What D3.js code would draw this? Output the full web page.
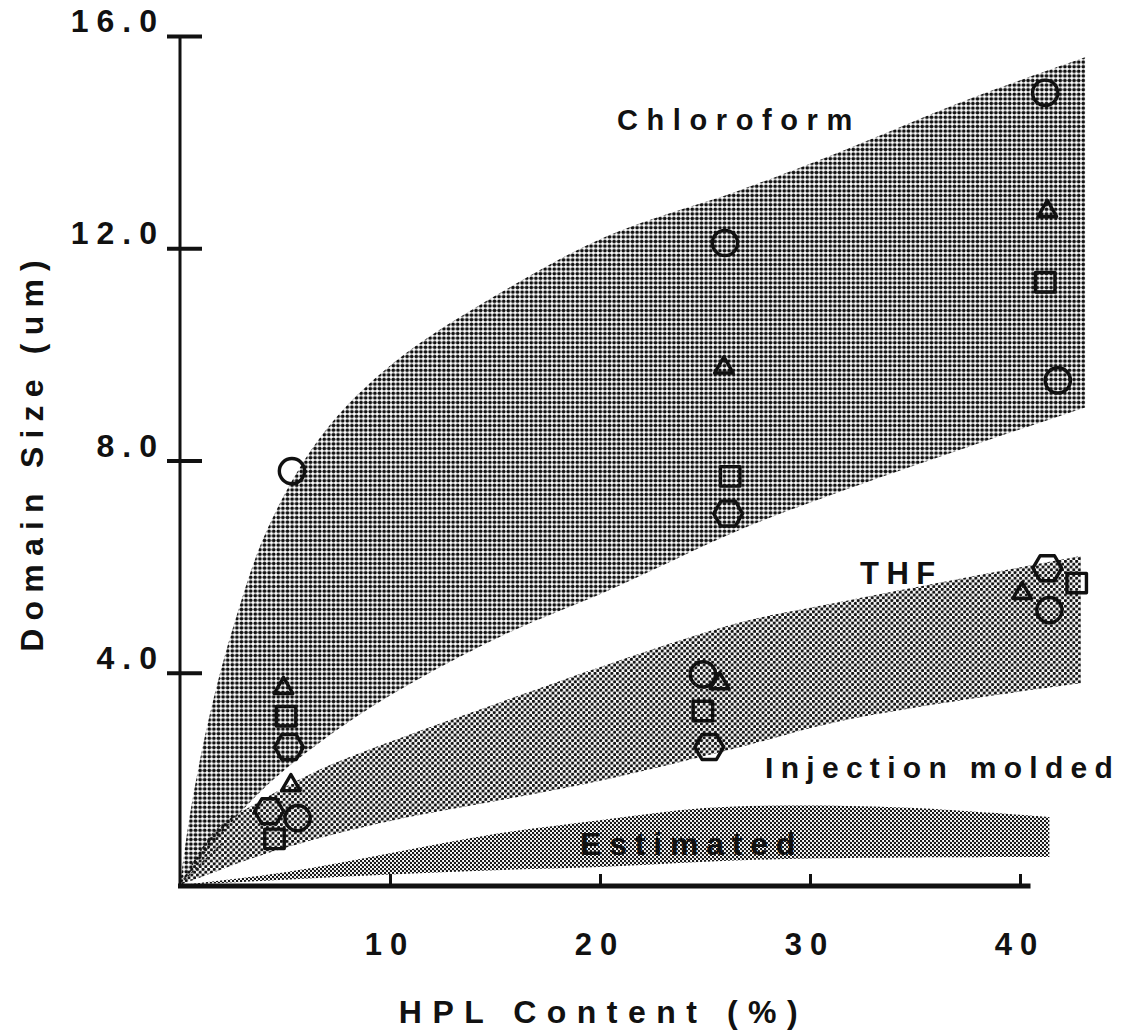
<!DOCTYPE html>
<html>
<head>
<meta charset="utf-8">
<script src="https://cdn.jsdelivr.net/npm/d3@7"></script>
<style>
  html, body { margin: 0; padding: 0; background: #fff; }
  svg { display: block; }
  text { font-family: "Liberation Sans", Arial, Helvetica, sans-serif; font-weight: bold; fill: #111; }
</style>
</head>
<body>
<svg id="chart" width="1147" height="1034"></svg>
<script>
// ---- data ----------------------------------------------------------------
const xTicks = [10, 20, 30, 40];
const yTicks = [4, 8, 12, 16];

// shaded bands: HPL content and lower / upper domain size
const chloroformX     = [0, 0.5, 1.4, 2.6, 4.2, 6.8, 10.2, 15.3, 20.4, 26.7, 31, 37.5, 43.1];
const chloroformUpper = [0, 1.39, 3.18, 4.95, 6.74, 8.5, 9.85, 11.17, 12.24, 13.1, 13.75, 14.8, 15.6];
const chloroformLower = [0, 0.25, 0.7, 1.25, 1.9, 2.73, 3.62, 4.69, 5.55, 6.7, 7.35, 8.25, 9.0];

const thfX     = [0, 1.7, 3.4, 6.8, 10.2, 15.3, 20.4, 26.7, 31, 37.5, 42.9];
const thfUpper = [0, 1.04, 1.49, 2.2, 2.73, 3.45, 4.16, 4.95, 5.3, 5.8, 6.2];
const thfLower = [0, 0.25, 0.5, 0.9, 1.22, 1.6, 2.0, 2.6, 3.05, 3.5, 3.8];

const estimatedX     = [0, 5, 10, 15, 20, 25, 30, 35, 41.4];
const estimatedUpper = [0, 0.24, 0.6, 0.96, 1.22, 1.45, 1.5, 1.45, 1.28];
const estimatedLower = [0, 0.1, 0.2, 0.28, 0.34, 0.44, 0.5, 0.52, 0.53];

// measured points [HPL %, domain size um] by marker shape
const circlePts   = [[5.33, 7.8], [5.6, 1.26], [25.95, 12.1], [24.9, 3.97], [41.2, 14.93], [41.8, 9.51], [41.4, 5.18]];
const trianglePts = [[4.93, 3.71], [5.28, 1.88], [25.9, 9.75], [25.7, 3.8], [41.3, 12.7], [40.1, 5.5]];
const squarePts   = [[5.05, 3.18], [4.5, 0.87], [26.2, 7.7], [24.9, 3.28], [41.2, 11.36], [42.7, 5.69]];
const hexagonPts  = [[5.19, 2.6], [4.24, 1.39], [26.1, 7.0], [25.2, 2.6], [41.3, 5.97]];

// ---- scales --------------------------------------------------------------
const x = d3.scaleLinear().domain([0, 40]).range([180, 1020]);
const y = d3.scaleLinear().domain([0, 16]).range([885, 36]);

const svg = d3.select("#chart");
const defs = svg.append("defs");

// halftone dot screens
function dotPattern(id, size, dots, r, fg) {
  const p = defs.append("pattern").attr("id", id)
    .attr("patternUnits", "userSpaceOnUse").attr("width", size).attr("height", size);
  dots.forEach(([cx, cy]) => p.append("circle").attr("cx", cx * size).attr("cy", cy * size).attr("r", r).attr("fill", fg));
}
dotPattern("screenChloro", 4.6, [[0.5, 0.5]], 1.9, "#111");
dotPattern("screenTHF", 5.6, [[0.25, 0.25], [0.75, 0.75]], 1.6, "#111");
dotPattern("screenEst", 4.0, [[0.25, 0.25], [0.75, 0.75]], 1.2, "#111");

// ---- bands ---------------------------------------------------------------
function band(xs, lo, hi, fill) {
  const rows = xs.map((v, i) => ({ x: v, lo: lo[i], hi: hi[i] }));
  const area = d3.area()
    .x(d => x(d.x)).y0(d => y(d.lo)).y1(d => y(d.hi))
    .curve(d3.curveCatmullRom.alpha(0.5));
  svg.append("path").datum(rows).attr("d", area).attr("fill", fill);
}
band(chloroformX, chloroformLower, chloroformUpper, "url(#screenChloro)");
band(thfX, thfLower, thfUpper, "url(#screenTHF)");
band(estimatedX, estimatedLower, estimatedUpper, "url(#screenEst)");

// faint pencil guide near the origin
svg.append("line")
  .attr("x1", x(0.2)).attr("y1", y(0.1)).attr("x2", x(2)).attr("y2", y(0.78))
  .attr("stroke", "#222").attr("stroke-width", 1.4).attr("stroke-dasharray", "3,2");

// ---- band labels -----------------------------------------------------------
function label(txt, px, py, size, ls) {
  svg.append("text").attr("x", px).attr("y", py)
    .attr("font-size", size).attr("letter-spacing", ls).text(txt);
}
label("Chloroform", 617, 130, 29, 8.6);
label("THF", 860, 584, 31, 7.5);
label("Injection molded", 765, 778, 30, 7.3);
label("Estimated", 580, 855, 32, 7.8);

// ---- axes ----------------------------------------------------------------
const yAxis = svg.append("g").attr("transform", `translate(${x(0)},0)`)
  .call(d3.axisLeft(y).tickValues(yTicks).tickSize(12).tickFormat(""));
yAxis.select(".domain").remove();
yAxis.selectAll(".tick line").attr("x1", 22).attr("x2", -13)
  .attr("stroke", "#111").attr("stroke-width", 4);
svg.append("line")
  .attr("x1", x(0)).attr("x2", x(0)).attr("y1", y(0) + 2).attr("y2", y(16))
  .attr("stroke", "#111").attr("stroke-width", 3);

const xAxis = svg.append("g").attr("transform", `translate(0,${y(0)})`)
  .call(d3.axisBottom(x).tickValues(xTicks).tickSize(-11).tickFormat(""));
xAxis.select(".domain").remove();
xAxis.selectAll(".tick line").attr("stroke", "#111").attr("stroke-width", 3);
svg.append("line")
  .attr("x1", x(0) - 2).attr("x2", x(40.5)).attr("y1", y(0) + 1).attr("y2", y(0) + 1)
  .attr("stroke", "#111").attr("stroke-width", 5);

// tick labels
const yLS = 8;
svg.selectAll(".ylab").data(yTicks).join("text").attr("class", "ylab")
  .attr("x", 157 + yLS).attr("y", d => y(d) - 4)
  .attr("text-anchor", "end").attr("font-size", 32).attr("letter-spacing", yLS)
  .text(d => d3.format(".1f")(d));

const xLS = 8;
svg.selectAll(".xlab").data(xTicks).join("text").attr("class", "xlab")
  .attr("x", d => x(d) - 4 + xLS / 2).attr("y", 955)
  .attr("text-anchor", "middle").attr("font-size", 31).attr("letter-spacing", xLS)
  .text(d => d);

// axis titles
svg.append("text").attr("x", 598 + 5.5).attr("y", 1023)
  .attr("text-anchor", "middle").attr("font-size", 32).attr("letter-spacing", 10.5)
  .text("HPL Content (%)");
const titleLS = 8.2;
svg.append("text").attr("transform", "translate(43,456) rotate(-90)")
  .attr("x", titleLS / 2).attr("text-anchor", "middle").attr("font-size", 32).attr("letter-spacing", titleLS)
  .text("Domain Size (um)");

// ---- markers ---------------------------------------------------------------
const hexagon = {
  draw(ctx, size) {
    const r = Math.sqrt(size / (1.5 * Math.sqrt(3)));
    for (let i = 0; i < 6; i++) {
      const a = Math.PI / 3 * i;
      const px = r * Math.cos(a), py = r * Math.sin(a);
      if (i === 0) ctx.moveTo(px, py); else ctx.lineTo(px, py);
    }
    ctx.closePath();
  }
};
function markers(pts, type, size) {
  svg.append("g").selectAll("path").data(pts).join("path")
    .attr("transform", d => `translate(${x(d[0])},${y(d[1])})`)
    .attr("d", d3.symbol().type(type).size(size))
    .attr("fill", "none").attr("stroke", "#111").attr("stroke-width", 3.4)
    .attr("stroke-linejoin", "round");
}
markers(circlePts, d3.symbolCircle, 500);
markers(trianglePts, d3.symbolTriangle, 150);
markers(squarePts, d3.symbolSquare, 380);
markers(hexagonPts, hexagon, 540);
</script>
</body>
</html>
